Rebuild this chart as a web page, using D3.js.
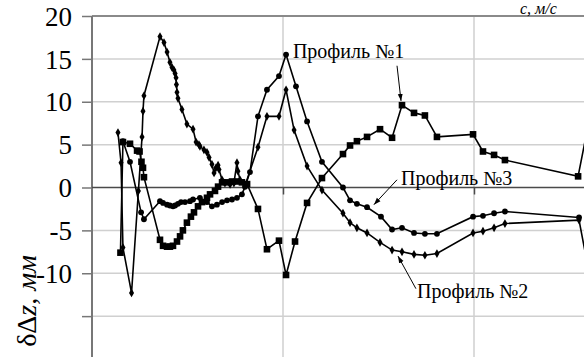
<!DOCTYPE html>
<html><head><meta charset="utf-8">
<script src="https://cdn.jsdelivr.net/npm/d3@7"></script>
<style>body{margin:0;background:#fff}svg{display:block}</style>
</head><body><svg id="c" width="584" height="357"></svg>
<script>
// ---- data ----
const yTicks = [20, 15, 10, 5, 0, -5, -10];
const yGrid = [20, 15, 10, 5, -5, -10, -15];
const xGrid = [100, 200];
const profile1 = [[14.9,-7.6],[16.2,5.3],[19.9,5.1],[23.6,4.3],[24.9,4.2],[25.9,3.0],[26.7,2.3],[27.2,1.2],[35.6,-6.1],[37.2,-6.8],[39.3,-6.9],[40.8,-6.9],[42.4,-6.8],[44.5,-6.3],[46.1,-5.7],[47.6,-5.0],[49.7,-4.1],[51.8,-3.4],[53.4,-2.9],[55.5,-2.2],[57.6,-1.7],[60.2,-1.2],[61.8,-0.8],[64.4,-0.4],[66.0,0.1],[68.1,0.6],[70.7,0.6],[73.3,0.7],[75.9,0.7],[78.5,0.6],[81.2,0.4],[86.9,-2.5],[91.6,-7.2],[97.9,-6.2],[101.6,-10.2],[106.3,-6.3],[112.6,-1.8],[120.4,1.1],[131.4,3.9],[135.1,4.9],[138.7,5.4],[144.0,5.9],[150.8,6.8],[157.1,5.8],[162.3,9.6],[168.6,8.7],[174.3,8.4],[180.6,5.9],[199.5,6.2],[204.7,4.2],[210.5,3.8],[216.2,3.2],[254.5,1.3],[260.7,8.3]];
const profile2 = [[13.6,6.4],[15.2,2.9],[16.2,-7.0],[20.7,-12.3],[24.3,-0.4],[26.2,5.9],[26.7,8.9],[27.2,10.7],[35.6,17.6],[37.7,16.9],[39.3,15.8],[40.8,14.6],[41.9,14.0],[42.9,13.7],[43.5,13.3],[44.0,12.8],[44.2,12.0],[44.5,11.1],[45.0,10.4],[47.1,9.1],[49.7,7.4],[52.9,6.8],[54.5,5.3],[56.0,5.0],[56.5,4.8],[58.6,4.4],[60.2,4.1],[61.3,3.5],[62.8,2.7],[63.9,1.7],[64.9,2.3],[66.0,2.6],[66.5,2.1],[68.1,0.9],[69.6,0.5],[72.3,0.35],[74.3,0.5],[75.9,2.9],[76.4,1.9],[77.5,0.9],[80.1,0.2],[86.9,4.7],[91.6,8.3],[97.9,8.3],[101.6,11.4],[105.8,6.7],[112.6,2.5],[120.4,-0.3],[131.4,-3.0],[135.1,-4.1],[138.7,-4.7],[144.0,-5.3],[150.8,-6.4],[157.1,-7.3],[162.3,-7.5],[168.6,-7.8],[174.3,-7.9],[180.6,-7.7],[199.5,-5.3],[204.7,-5.1],[210.5,-4.7],[216.2,-4.2],[255.0,-3.8],[260.7,-10.5]];
const profile3 = [[16.2,5.4],[19.9,3.0],[25.7,-2.9],[27.2,-3.7],[35.6,-1.6],[37.2,-1.8],[39.3,-2.0],[40.8,-2.1],[42.4,-2.2],[43.5,-2.1],[45.0,-1.9],[46.6,-1.7],[48.7,-1.7],[51.3,-1.6],[52.9,-1.4],[56.5,-1.2],[60.2,-1.7],[62.8,-2.2],[65.4,-2.0],[68.1,-1.7],[70.7,-1.5],[73.3,-1.4],[75.9,-1.2],[78.5,-0.8],[80.1,0.1],[82.7,1.8],[86.9,8.3],[91.6,11.4],[97.9,13.0],[101.6,15.5],[106.8,11.8],[112.6,7.7],[120.4,3.0],[131.4,0.0],[135.1,-1.5],[138.7,-1.9],[144.0,-2.3],[151.3,-3.4],[157.1,-4.9],[162.3,-4.7],[168.6,-5.3],[174.3,-5.4],[180.6,-5.4],[199.5,-3.4],[204.7,-3.3],[210.5,-3.0],[216.2,-2.8],[255.0,-3.5]];
const labels = ["Профиль №1", "Профиль №2", "Профиль №3"];
// annotation anchors in data units: [textX, textY, lineFromX, lineFromY, lineToX, lineToY]
const notes = [
  [105.2, 15.1, 159.7, 14.2, 161.8, 10.1],
  [170.2, -12.9, 169.6, -11.8, 160.2, -8.0],
  [161.8, 0.3, 159.7, 0.9, 147.6, -2.0]
];

// ---- chart ----
const FONT = "'Liberation Serif', 'Times New Roman', serif";
const svg = d3.select("#c");
const x = d3.scaleLinear().domain([0, 300]).range([92, 665]);
const y = d3.scaleLinear().domain([20, -20]).range([16, 359]);

const defs = svg.append("defs");
defs.append("marker").attr("id","ah").attr("viewBox","0 0 10 10").attr("refX",10).attr("refY",5)
  .attr("markerWidth",7).attr("markerHeight",7).attr("orient","auto")
  .append("path").attr("d","M0,1.5L10,5L0,8.5Z").attr("fill","#000");

// grid
svg.append("g").selectAll("line").data(xGrid).join("line")
  .attr("x1", d=>x(d)).attr("x2", d=>x(d)).attr("y1", y(20)).attr("y2", 357)
  .attr("stroke", "#cfcfcf").attr("stroke-width", 1.5);
svg.append("g").selectAll("line").data(yGrid).join("line")
  .attr("x1", x(0)).attr("x2", 584).attr("y1", d=>y(d)).attr("y2", d=>y(d))
  .attr("stroke", d => d === 20 ? "#8a8a8a" : "#d0d0d0").attr("stroke-width", d => d === 20 ? 2 : 1.5);

// y axis
const ya = svg.append("g").attr("transform", `translate(${x(0)},0)`)
  .call(d3.axisLeft(y).tickValues(yGrid.concat([0])).tickSize(10).tickFormat(""));
ya.select(".domain").attr("stroke", "#777").attr("stroke-width", 2).attr("d", `M0,${y(20)}V357`);
ya.selectAll(".tick line").attr("stroke", "#777").attr("stroke-width", 1.5);
svg.append("g").selectAll("text").data(yTicks).join("text")
  .style("font-family", FONT).style("font-size", "27px")
  .attr("x", 72).attr("y", d => y(d)).attr("dy", "0.36em").attr("text-anchor", "end").attr("fill", "#000")
  .text(d => d < 0 ? "-" + Math.abs(d) : d);

// x axis at zero
const xa = svg.append("g").attr("transform", `translate(0,${y(0)})`)
  .call(d3.axisBottom(x).tickValues(xGrid).tickSize(7).tickFormat(""));
xa.select(".domain").attr("stroke", "#4a4a4a").attr("stroke-width", 1.5).attr("d", `M${x(0)},0H584`);
xa.selectAll(".tick line").attr("stroke", "#4a4a4a").attr("stroke-width", 1.5);

// lines
const line = d3.line().x(d => x(d[0])).y(d => y(d[1]));
const series = [profile1, profile2, profile3];
svg.append("g").selectAll("path").data(series).join("path")
  .attr("d", line).attr("fill", "none").attr("stroke", "#000").attr("stroke-width", 1.6);

// markers
const mk = svg.append("g").attr("fill", "#000");
mk.selectAll("rect").data(profile1).join("rect")
  .attr("x", d => x(d[0]) - 3.3).attr("y", d => y(d[1]) - 3.3).attr("width", 6.6).attr("height", 6.6);
mk.selectAll("path.dia").data(profile2).join("path").attr("class","dia")
  .attr("d", d3.symbol(d3.symbolDiamond, 22))
  .attr("transform", d => `translate(${x(d[0])},${y(d[1])})`);
mk.selectAll("circle").data(profile3).join("circle")
  .attr("cx", d => x(d[0])).attr("cy", d => y(d[1])).attr("r", 2.9);

// annotations
const ann = svg.append("g");
notes.forEach((n, i) => {
  ann.append("line").attr("x1", x(n[2])).attr("y1", y(n[3])).attr("x2", x(n[4])).attr("y2", y(n[5]))
    .attr("stroke", "#000").attr("stroke-width", 1).attr("marker-end", "url(#ah)");
  ann.append("text").attr("x", x(n[0])).attr("y", y(n[1]))
    .style("font-family", FONT).style("font-size", "20px").attr("fill", "#000").text(labels[i]);
});

// axis titles
const yt = svg.append("text").attr("transform", "translate(36,255) rotate(-90)")
  .attr("text-anchor", "end").style("font-family", FONT).style("font-size", "28px").attr("fill", "#000");
yt.append("tspan").text("δΔ");
yt.append("tspan").style("font-style", "italic").text("z, мм");
svg.append("text").attr("x", 520).attr("y", 14).style("font-family", FONT).style("font-style", "italic")
  .style("font-size", "16px").attr("fill", "#000").text("c, м/с");
</script></body></html>
